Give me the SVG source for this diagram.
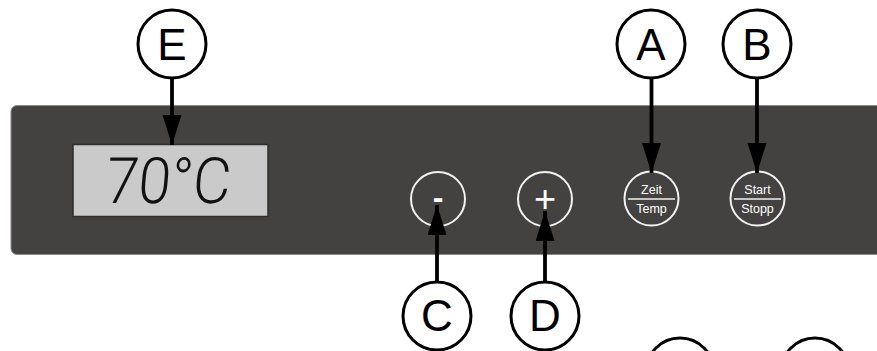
<svg xmlns="http://www.w3.org/2000/svg" width="877" height="351" viewBox="0 0 877 351">
<style>
.lbl circle{fill:#fff;stroke:#000;stroke-width:3}
.lbl text{font-family:"Liberation Sans",Arial,sans-serif;font-size:44px;fill:#000;text-anchor:middle}
.btn circle{fill:none;stroke:#f2f2f2;stroke-width:2}
.btn text{font-family:"Liberation Sans",Arial,sans-serif;fill:#fff;text-anchor:middle}
.small{font-size:12.5px}
.sym{font-size:38px}
.conn line{stroke:#000;stroke-width:3.8;marker-end:url(#ah)}
</style>
<defs>
<marker id="ah" markerUnits="userSpaceOnUse" markerWidth="30" markerHeight="20" refX="30" refY="9.5" orient="auto">
<path d="M0,0 L30,9.5 L0,19 z" fill="#000"/>
</marker>
</defs>
<rect width="877" height="351" fill="#fff"/>
<g id="panel">
<rect x="11" y="105.5" width="880" height="149" rx="6" fill="#444240" stroke="#8a8a8a" stroke-width="1"/>
</g>
<g id="display">
<rect x="73" y="144.5" width="195" height="72" fill="#c9cac9" stroke="#2e2e2e" stroke-width="1.5"/>
<text x="107" y="203" transform="skewX(-5) translate(15 0)" font-family="Roboto,'Liberation Sans',sans-serif" font-weight="300" font-size="64" fill="#111" textLength="125" lengthAdjust="spacingAndGlyphs">70°C</text>
</g>
<g id="btn-minus" class="btn">
<circle cx="438" cy="199" r="27"/>
<text x="438" y="208" font-size="32" font-weight="bold">-</text>
</g>
<g id="btn-plus" class="btn">
<circle cx="545" cy="199" r="27"/>
<text class="sym" x="545" y="212">+</text>
</g>
<g id="btn-zeit" class="btn">
<circle cx="651.5" cy="198.5" r="27"/>
<line x1="628" y1="199" x2="675" y2="199" stroke="#f2f2f2" stroke-width="1.5"/>
<text class="small" x="651.5" y="193.5">Zeit</text>
<text class="small" x="651.5" y="212.5">Temp</text>
</g>
<g id="btn-start" class="btn">
<circle cx="757.5" cy="198.5" r="27"/>
<line x1="734" y1="199" x2="781" y2="199" stroke="#f2f2f2" stroke-width="1.5"/>
<text class="small" x="757.5" y="193.5">Start</text>
<text class="small" x="757.5" y="212.5">Stopp</text>
</g>
<g id="connectors" class="conn">
<line x1="172" y1="78" x2="172" y2="145"/>
<line x1="651.5" y1="78" x2="651.5" y2="173"/>
<line x1="757" y1="78" x2="757" y2="173"/>
<line x1="437" y1="282" x2="437" y2="205"/>
<line x1="545" y1="282" x2="545" y2="211"/>
</g>
<g id="label-E" class="lbl"><circle cx="172" cy="44" r="34"/><text x="172" y="60">E</text></g>
<g id="label-A" class="lbl"><circle cx="651" cy="44" r="34"/><text x="651" y="60">A</text></g>
<g id="label-B" class="lbl"><circle cx="757" cy="44" r="34"/><text x="757" y="60">B</text></g>
<g id="label-C" class="lbl"><circle cx="437" cy="316" r="34"/><text x="437" y="331">C</text></g>
<g id="label-D" class="lbl"><circle cx="545" cy="316" r="34"/><text x="545" y="331">D</text></g>
<g id="label-F" class="lbl"><circle cx="680" cy="372" r="34"/></g>
<g id="label-G" class="lbl"><circle cx="815" cy="372" r="34"/></g>
</svg>
